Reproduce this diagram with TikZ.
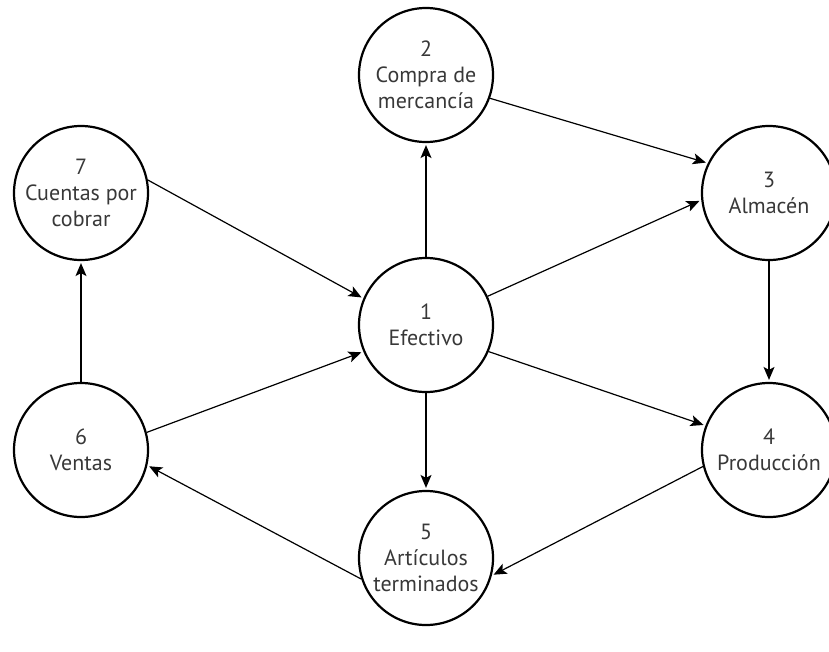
\documentclass[tikz,border=0pt]{standalone}
\usepackage{fontspec}
\setmainfont{PT Sans}
\usetikzlibrary{arrows.meta}

\begin{document}
\begin{tikzpicture}[x=1pt,y=-1pt,->,>={Stealth[length=13pt,width=11pt,inset=3pt]},
    shorten >=2pt,line width=1.2pt,
    main node/.style={circle,draw,line width=2.2pt,minimum size=134pt,inner sep=0pt,
      align=center,text=black!78,font=\fontsize{22}{26}\selectfont}]
\useasboundingbox (0,0) rectangle (829,651);

\node[main node] (1) at (426,325) {1\\Efectivo};
\node[main node] (2) at (426,75) {2\\Compra de\\mercancía};
\node[main node] (3) at (769,193) {3\\Almacén};
\node[main node] (4) at (769,450) {4\\Producción};
\node[main node] (5) at (426,558) {5\\Artículos\\terminados};
\node[main node] (6) at (81,450) {6\\Ventas};
\node[main node] (7) at (81,193) {7\\Cuentas por\\cobrar};



\path
(1) edge (2)
(2.-20) edge (3.154)
(1.25) edge (3.186)
(3) edge (4)
(1.-23) edge (4.159)
(4.194) edge (5.-15)
(1) edge (5)
(5.198) edge (6.-13)
(6) edge (7)
(6.15) edge (1.203)
(7.11) edge (1.157)
;

\end{tikzpicture}
\end{document}
